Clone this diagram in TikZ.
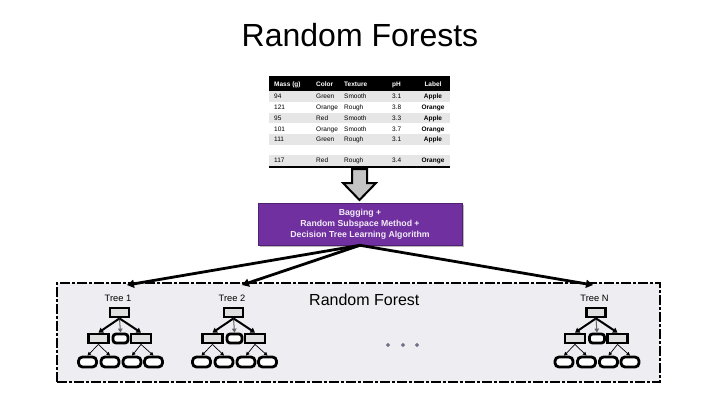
\documentclass[tikz,border=0pt]{standalone}
\usepackage{fontspec}
\setmainfont{Liberation Sans}
\usetikzlibrary{arrows.meta,shadows,shapes.geometric}
\definecolor{purp}{HTML}{7030A0}
\definecolor{panelc}{HTML}{EEEEF2}
\definecolor{rowgrey}{HTML}{E6E6E6}
\definecolor{nodegrey}{HTML}{DFDFDF}
\definecolor{dotc}{HTML}{707088}
\definecolor{arrowgrey}{HTML}{C4C4C4}
\begin{document}
\begin{tikzpicture}[x=1pt,y=-1pt,
  titlefont/.style={font=\fontsize{32}{36}\selectfont},
  cell/.style={font=\fontsize{6.5}{7}\selectfont, inner sep=0pt, anchor=base west},
  hcell/.style={cell, text=white, font=\fontsize{6.5}{7}\selectfont\bfseries},
  lcell/.style={font=\fontsize{6.5}{7}\selectfont\bfseries, inner sep=0pt, anchor=base},
  purpbox/.style={fill=purp, draw=purp!70!black, line width=0.6pt, minimum width=204pt, minimum height=42pt,
     align=center, text=white!92!purp, font=\fontsize{8.7}{11}\selectfont\bfseries, inner sep=0pt,
     drop shadow={shadow xshift=2pt, shadow yshift=-2pt, fill=black!45, opacity=0.6}},
  conn/.style={line width=2.8pt, -{Triangle[length=7pt,width=8pt]}},
  panelbox/.style={draw=black, fill=panelc, line width=2.8pt, dash pattern=on 10pt off 2pt on 3pt off 2pt,
     minimum width=603pt, minimum height=99pt, inner sep=0pt},
  treelabel/.style={font=\fontsize{9.3}{10}\selectfont, inner sep=0pt},
  rootbox/.style={draw, fill=nodegrey, line width=2.8pt, minimum width=19pt, minimum height=9pt, inner sep=0pt},
  midrect/.style={draw, fill=nodegrey, line width=2.8pt, minimum width=20pt, minimum height=9pt, inner sep=0pt},
  midround/.style={draw, fill=white, line width=2.8pt, rounded corners=3pt, minimum width=15pt, minimum height=9pt, inner sep=0pt},
  leafbox/.style={draw, fill=white, line width=2.8pt, rounded corners=4pt, minimum width=18pt, minimum height=10pt, inner sep=0pt},
  bigtarr/.style={line width=2pt, -{Triangle[length=4.5pt,width=5.5pt]}},
  midtarr/.style={line width=1pt, draw=black!60, -{Triangle[length=4pt,width=4.5pt]}},
  smallarr/.style={line width=0.7pt, -{Triangle[length=3.5pt,width=3.5pt]}},
  dotnode/.style={diamond, fill=dotc, minimum size=4.2pt, inner sep=0pt}
]
\useasboundingbox (0,0) rectangle (720,405);
\fill[white] (0,0) rectangle (720,405);

% title
\node[titlefont] (title) at (360,35) {Random Forests};

% table
\fill[black] (269,76) rectangle (450,91);
\foreach \y in {91,112.6,134.2,155} {\fill[rowgrey] (269,\y) rectangle (450,\y+10.8);}
\fill[black] (269,165.6) rectangle (450,167.6);
\node[hcell] (h1) at (274,86.3) {Mass (g)};
\node[hcell] (h2) at (316,86.3) {Color};
\node[hcell] (h3) at (344,86.3) {Texture};
\node[hcell] (h4) at (392,86.3) {pH};
\node[hcell, anchor=base] (h5) at (433,86.3) {Label};
\foreach \i/\y/\m/\c/\t/\p/\l in {
  1/98.7/94/Green/Smooth/3.1/Apple,
  2/109.5/121/Orange/Rough/3.8/Orange,
  3/120.3/95/Red/Smooth/3.3/Apple,
  4/131.1/101/Orange/Smooth/3.7/Orange,
  5/141.9/111/Green/Rough/3.1/Apple,
  6/162.7/117/Red/Rough/3.4/Orange} {
  \node[cell] (r\i m) at (274,\y) {\m};
  \node[cell] (r\i c) at (316,\y) {\c};
  \node[cell] (r\i t) at (344,\y) {\t};
  \node[cell] (r\i p) at (392,\y) {\p};
  \node[lcell] (r\i l) at (433,\y) {\l};
}

% big down arrow
\draw[line width=2pt, fill=arrowgrey, line join=miter]
  (352,169) -- (367,169) -- (367,183) -- (376,183) -- (359.5,200) -- (343,183) -- (352,183) -- cycle;

% purple box
\node[purpbox] (bag) at (360,224) {Bagging +\\Random Subspace Method +\\Decision Tree Learning Algorithm};

% panel
\node[panelbox] (panel) at (358.5,332.5) {};
\node[font=\fontsize{16}{18}\selectfont, inner sep=0pt, anchor=west] (rf) at (309,300) {Random Forest};
\node[dotnode] (d1) at (388,345) {};
\node[dotnode] (d2) at (403,345) {};
\node[dotnode] (d3) at (417,345) {};

% entry points of connectors
\coordinate (ina) at (127,285);
\coordinate (inb) at (242,285);
\coordinate (inn) at (593,285);
\draw[conn] (bag.south) -- (ina);
\draw[conn] (bag.south) -- (inb);
\draw[conn] (bag.south) -- (inn);

% trees
\foreach \t/\cx/\lab in {a/119.5/Tree 1, b/233.5/Tree 2, n/596/Tree N} {
  \node[treelabel] (\t-lab) at (\cx-1.5,298) {\lab};
  \node[rootbox] (\t-r) at (\cx,312.5) {};
  \node[midrect] (\t-m1) at (\cx-21,338.5) {};
  \node[midround] (\t-m2) at (\cx+1,338.5) {};
  \node[midrect] (\t-m3) at (\cx+21.5,338.5) {};
  \node[leafbox] (\t-l1) at (\cx-32,362) {};
  \node[leafbox] (\t-l2) at (\cx-9.5,362) {};
  \node[leafbox] (\t-l3) at (\cx+12.5,362) {};
  \node[leafbox] (\t-l4) at (\cx+34,362) {};
  \draw[bigtarr] (\t-r.south) -- (\t-m1.north);
  \draw[midtarr] (\t-r.south) -- (\t-m2.north);
  \draw[bigtarr] (\t-r.south) -- (\t-m3.north);
  \draw[smallarr] (\t-m1.south) -- (\t-l1.north);
  \draw[smallarr] (\t-m1.south) -- (\t-l2.north);
  \draw[smallarr] (\t-m3.south) -- (\t-l3.north);
  \draw[smallarr] (\t-m3.south) -- (\t-l4.north);
}
\end{tikzpicture}
\end{document}
